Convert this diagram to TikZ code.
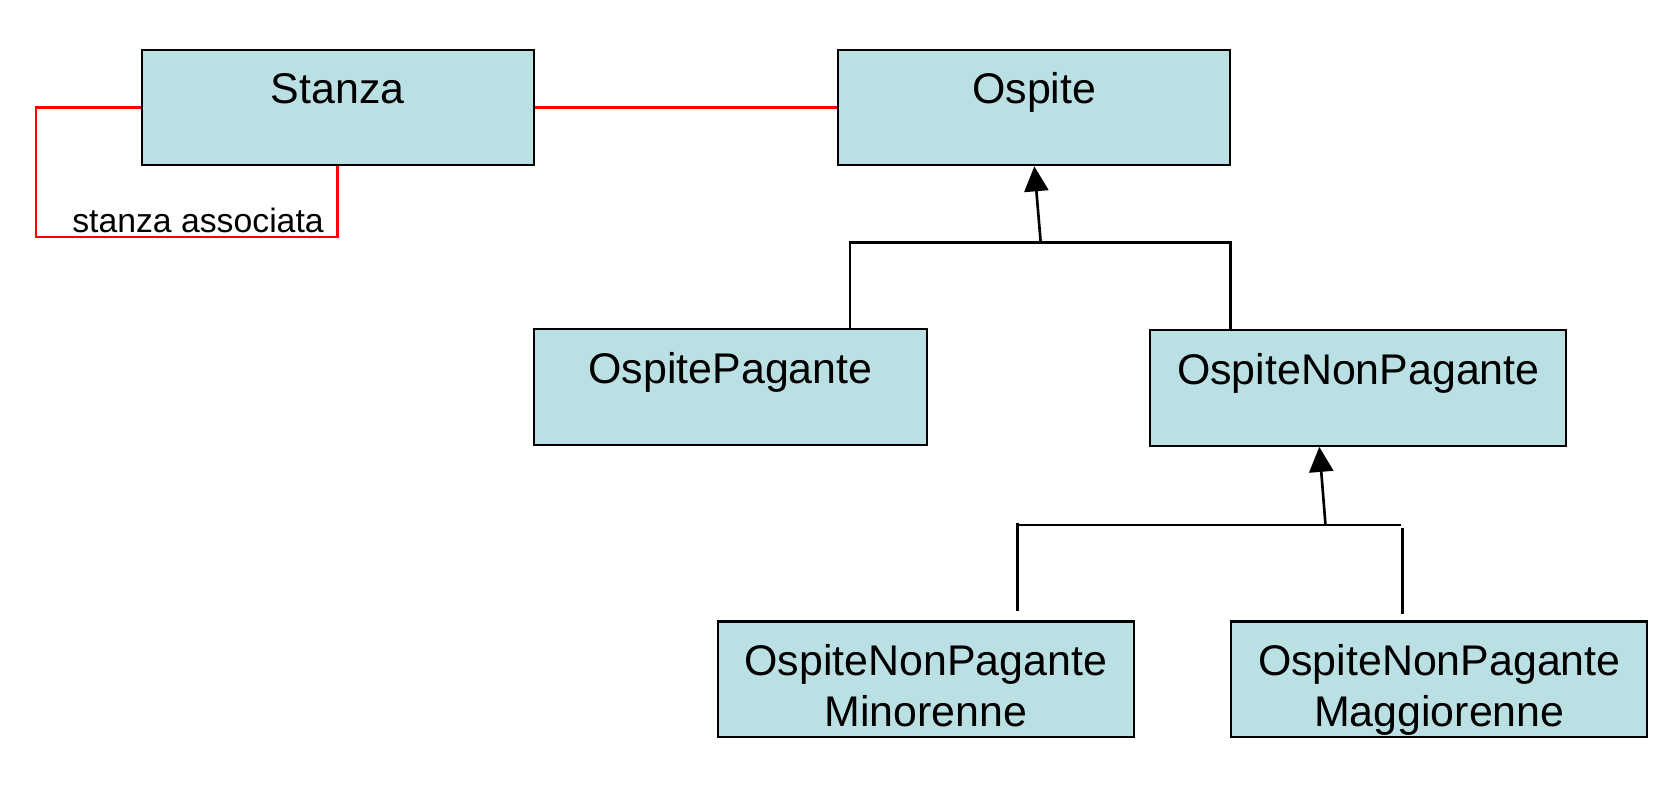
\documentclass[tikz,border=0pt]{standalone}
\usepackage{fontspec}
\setmainfont{Liberation Sans}
\usetikzlibrary{arrows.meta}
\definecolor{classfill}{RGB}{187,224,227}

\begin{document}
\begin{tikzpicture}[x=0.01cm,y=-0.01cm,>={Triangle[length=0.25cm,width=0.24cm]},
    cls/.style={draw,line width=0.6pt,fill=classfill,anchor=north,inner sep=0pt,
      text height=0.54cm,text depth=0.614cm,minimum width=3.92cm,align=center,
      font=\fontsize{12.2}{14.4}\selectfont},
    wide/.style={cls,minimum width=4.16cm},
    twoline/.style={wide,text height=1.048cm,text depth=0.106cm},
    gen/.style={line width=0.75pt},
    assoc/.style={red,line width=0.7pt}]
    \useasboundingbox (0,0) rectangle (1660,785);
    \node[cls] (stanza) at (337.7,48.7) {Stanza};
    \node[cls] (ospite) at (1034.3,48.7) {Ospite};
    \node[cls] (pagante) at (730.5,328.2) {OspitePagante};
    \node[wide] (nonpagante) at (1358.3,329.3) {OspiteNonPagante};
    \node[twoline] (minorenne) at (925.8,620.4) {OspiteNonPagante\\Minorenne};
    \node[twoline] (maggiorenne) at (1439.3,620.4) {OspiteNonPagante\\Maggiorenne};
    % associazioni
    \coordinate (loopcorner) at (36,237);
    \draw[assoc] (stanza.east) -- (ospite.west);
    \draw[assoc] (stanza.west) -| (loopcorner) -| (stanza.south);
    \node[anchor=base,inner sep=0pt,font=\fontsize{9.6}{11.5}\selectfont] (assoclabel) at (198,232) {stanza associata};
    % generalizzazioni
    \coordinate (g1) at (1040.7,242.4); \coordinate (g1l) at (850,242.4); \coordinate (g1r) at (1230.2,242.4);
    \draw[gen] (pagante.north -| g1l) |- (g1r) -- (g1r |- nonpagante.north);
    \draw[gen,->] (g1) -- (ospite.south);
    \coordinate (g2) at (1325.5,525); \coordinate (g2l) at (1018.5,525); \coordinate (g2r) at (1400.7,525);
    \coordinate (minup) at (1017.4,611); \coordinate (magup) at (1402.8,614);
    \draw[gen] (g2l) -- (g2r);
    \draw[gen] (1017.4,523) -- (minup); \draw[gen] (1402.8,528) -- (magup);
    \draw[gen,->] (g2) -- ([xshift=-0.39cm]nonpagante.south);
\end{tikzpicture}
\end{document}
